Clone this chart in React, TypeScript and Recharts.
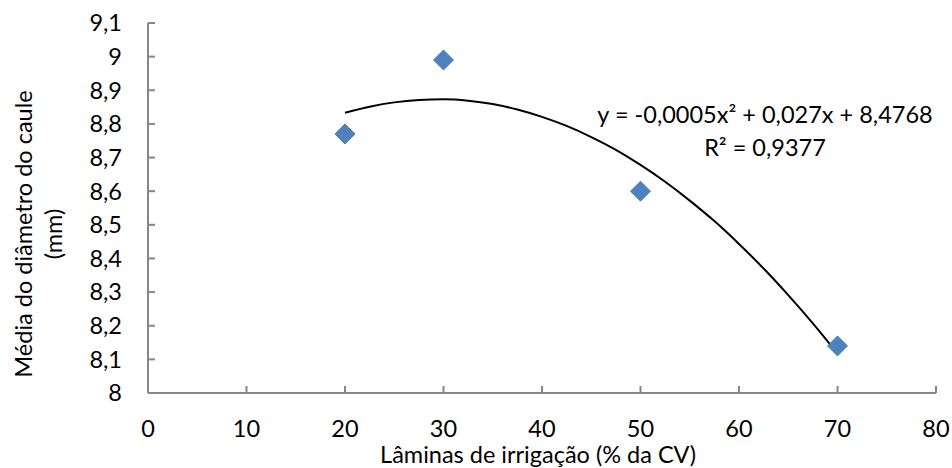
import React from 'react';
import { ComposedChart, XAxis, YAxis, Scatter, Line, Customized } from 'recharts';

const laminas = [20, 30, 50, 70];
const diametro = [8.77, 8.99, 8.6, 8.14];

const trendX = [20, 22.5, 25, 27.5, 30, 32.5, 35, 37.5, 40, 42.5, 45, 47.5, 50, 52.5, 55, 57.5, 60, 62.5, 65, 67.5, 70];
const trendY = [8.833, 8.851, 8.864, 8.871, 8.873, 8.869, 8.859, 8.843, 8.821, 8.794, 8.761, 8.723, 8.678, 8.628, 8.572, 8.511, 8.443, 8.370, 8.291, 8.207, 8.117];

const xTicks = [0, 10, 20, 30, 40, 50, 60, 70, 80];
const yTicks = [8, 8.1, 8.2, 8.3, 8.4, 8.5, 8.6, 8.7, 8.8, 8.9, 9, 9.1];
const yTickLabels = ['8', '8,1', '8,2', '8,3', '8,4', '8,5', '8,6', '8,7', '8,8', '8,9', '9', '9,1'];

const xTitle = 'Lâminas de irrigação (% da CV)';
const yTitleLines = ['Média do diâmetro do caule', '(mm)'];
const equationLines = ['y = -0,0005x² + 0,027x + 8,4768', 'R² = 0,9377'];

const FONT = 'Lato';
const FS = 23.5;
const AXIS = '#868686';

const points = laminas.map((x, i) => ({ x, y: diametro[i] }));
const trend = trendX.map((x, i) => ({ x, t: trendY[i] }));

const Diamond = (props: any) => {
  const { cx, cy } = props;
  const r = 10;
  return (
    <polygon
      points={`${cx},${cy - r} ${cx + r},${cy} ${cx},${cy + r} ${cx - r},${cy}`}
      fill="#4F81BD"
      stroke="#4A7EBB"
      strokeWidth={1}
    />
  );
};

const Texts = () => (
  <g fontFamily={FONT} fontSize={FS} fill="#000">
    <text x={538} y={463} textAnchor="middle">{xTitle}</text>
    <text x={32} y={234} textAnchor="middle" transform="rotate(-90, 32, 234)">{yTitleLines[0]}</text>
    <text x={62} y={234} textAnchor="middle" transform="rotate(-90, 62, 234)">{yTitleLines[1]}</text>
    <text x={765} y={123} textAnchor="middle">{equationLines[0]}</text>
    <text x={765} y={156} textAnchor="middle">{equationLines[1]}</text>
  </g>
);

export default function App() {
  return (
    <div style={{ position: 'absolute', left: 0, top: 0, width: 952, height: 468, background: '#fff' }}>
      <ComposedChart width={952} height={468} margin={{ top: 23, right: 16, bottom: 0, left: 0 }}>
        <XAxis
          dataKey="x"
          type="number"
          domain={[0, 80]}
          ticks={xTicks}
          allowDataOverflow
          height={75}
          stroke={AXIS}
          strokeWidth={2}
          tickSize={-7}
          tickMargin={34}
          tickLine={{ stroke: AXIS, strokeWidth: 2 }}
          tick={{ fill: '#000', fontSize: FS, fontFamily: FONT }}
        />
        <YAxis
          type="number"
          domain={[8, 9.1]}
          ticks={yTicks}
          allowDataOverflow
          width={148}
          stroke={AXIS}
          strokeWidth={2}
          tickSize={-7}
          tickMargin={33}
          tickLine={{ stroke: AXIS, strokeWidth: 2 }}
          tickFormatter={(v: number) => yTickLabels[yTicks.indexOf(v)] ?? String(v)}
          tick={{ fill: '#000', fontSize: FS, fontFamily: FONT }}
        />
        <Line
          data={trend}
          dataKey="t"
          type="monotone"
          stroke="#000"
          strokeWidth={2}
          dot={false}
          activeDot={false}
          isAnimationActive={false}
        />
        <Scatter data={points} dataKey="y" shape={<Diamond />} isAnimationActive={false} />
        <Customized component={Texts} />
      </ComposedChart>
    </div>
  );
}
